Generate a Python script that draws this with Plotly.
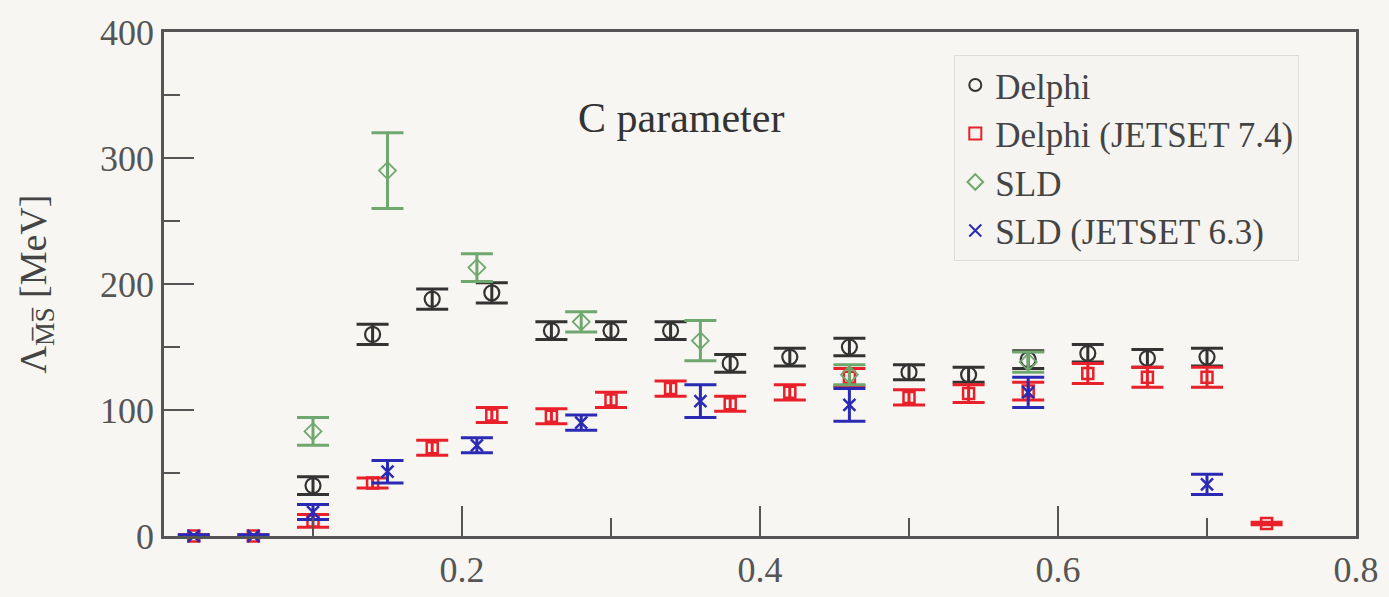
import plotly.graph_objects as go

# Delphi
delphi_x = [0.10, 0.14, 0.18, 0.22, 0.26, 0.30, 0.34, 0.38, 0.42, 0.46, 0.50, 0.54, 0.58, 0.62, 0.66, 0.70]
delphi_y = [40, 160, 188, 193, 163, 163, 163, 137, 142, 150, 130, 128, 140, 145, 141, 142]
delphi_err = [7, 8, 8, 8, 7, 7, 7, 7, 7, 7, 6, 6, 7, 7, 7, 7]

# Delphi (JETSET 7.4)
djet_x = [0.02, 0.06, 0.10, 0.14, 0.18, 0.22, 0.26, 0.30, 0.34, 0.38, 0.42, 0.46, 0.50, 0.54, 0.58, 0.62, 0.66, 0.70, 0.74]
djet_y = [0, 0, 12, 42, 70, 96, 95, 108, 117, 105, 114, 126, 110, 113, 115, 129, 126, 126, 10]
djet_err = [1, 1, 5, 4, 6, 6, 6, 6, 6, 6, 6, 7, 6, 7, 7, 8, 8, 8, 1]

# SLD
sld_x = [0.10, 0.15, 0.21, 0.28, 0.36, 0.46, 0.58]
sld_y = [83, 290, 213, 170, 155, 128, 138]
sld_err = [11, 30, 11, 8, 16, 8, 8]

# SLD (JETSET 6.3)
sjet_x = [0.02, 0.06, 0.10, 0.15, 0.21, 0.28, 0.36, 0.46, 0.58, 0.70]
sjet_y = [0, 0, 19, 51, 72, 90, 107, 104, 114, 41]
sjet_err = [1, 1, 6, 9, 6, 6, 13, 13, 12, 8]

FONT = "Liberation Serif, Times New Roman, serif"
BG = "#f8f6f2"

fig = go.Figure()

def add(x, y, err, name, color, symbol, size, lw):
    fig.add_trace(go.Scatter(
        x=x, y=y, mode="markers", name=name,
        marker=dict(symbol=symbol, size=size, color=color,
                    line=dict(color=color, width=lw)),
        error_y=dict(type="data", array=err, visible=True, color=color,
                     thickness=3, width=16),
        cliponaxis=False,
    ))

add(delphi_x, delphi_y, delphi_err, "Delphi", "#333333", "circle-open", 15, 2.2)
add(djet_x, djet_y, djet_err, "Delphi (JETSET 7.4)", "#e8202a", "square-open", 11, 2.5)
add(sld_x, sld_y, sld_err, "SLD", "#6fa86f", "diamond-open", 13, 1.8)
add(sjet_x, sjet_y, sjet_err, "SLD (JETSET 6.3)", "#2a2ab4", "x-thin-open", 12, 2.5)

fig.add_annotation(x=0.347, y=332, xref="x", yref="y", text="C parameter",
                   showarrow=False, font=dict(family=FONT, size=42, color="#333"))

fig.update_layout(
    width=1389, height=597,
    margin=dict(l=164, r=33, t=32, b=61, autoexpand=False),
    paper_bgcolor=BG, plot_bgcolor=BG,
    font=dict(family=FONT, color="#444"),
    showlegend=True,
    legend=dict(x=0.663, y=0.955, xanchor="left", yanchor="top",
                bgcolor="#f5f4f1", bordercolor="#dddddd", borderwidth=1,
                font=dict(family=FONT, size=35, color="#444"),
                tracegroupgap=0, itemsizing="constant"),
    xaxis=dict(range=[0, 0.8], showgrid=False, zeroline=False, automargin=False,
               tickmode="array", tickvals=[0.2, 0.4, 0.6, 0.8],
               ticktext=["0.2", "0.4", "0.6", "0.8"],
               ticks="inside", ticklen=30, tickwidth=2, tickcolor="#555",
               minor=dict(tickvals=[0.1, 0.3, 0.5, 0.7], ticks="inside",
                          ticklen=18, tickwidth=2, tickcolor="#555"),
               showline=True, linecolor="#555", linewidth=2.5, mirror=True,
               tickfont=dict(family=FONT, size=36, color="#555")),
    yaxis=dict(range=[0, 400], showgrid=False, zeroline=False, automargin=False,
               tickvals=[0, 100, 200, 300, 400],
               ticks="inside", ticklen=30, tickwidth=2, tickcolor="#555",
               minor=dict(tickvals=[50, 150, 250, 350], ticks="inside",
                          ticklen=16, tickwidth=2, tickcolor="#555"),
               showline=True, linecolor="#555", linewidth=2.5, mirror=True,
               tickfont=dict(family=FONT, size=36, color="#555"),
               title=dict(text="Λ<sub>M̅S̅</sub> [MeV]", standoff=42,
                          font=dict(family=FONT, size=38, color="#444"))),
)

fig.write_html("out.html")
